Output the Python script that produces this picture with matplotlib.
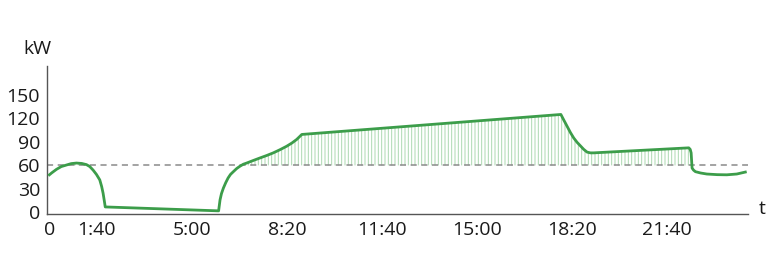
import numpy as np
import matplotlib
matplotlib.use("Agg")
import matplotlib.pyplot as plt

# load profile: time in minutes, power in kW
t_min = [0, 5, 15, 25, 36, 46, 57, 68, 78, 85, 92, 99, 106, 110, 113, 115.5, 117.5,
         356, 357.5, 359, 362, 366, 371, 376, 381, 387, 394, 401, 408, 415,
         429, 443, 457, 471, 485, 499, 510, 520, 526, 531,
         1076, 1082, 1089, 1096, 1103, 1110, 1117, 1124, 1131, 1138, 1145,
         1345, 1348, 1350, 1351, 1352, 1355, 1359, 1370, 1383, 1405, 1425, 1446, 1464]
kw = [48, 50.5, 55, 58.5, 60.5, 62.3, 63, 62.5, 61, 58.5, 54, 48.5, 41.5, 33, 24.5, 15, 7,
      2, 9, 16, 24, 31, 38, 44, 48.5, 52, 56, 59, 61.5, 63,
      66.3, 69.5, 72.6, 76, 80, 84.4, 88.5, 93, 96.5, 99.5,
      125, 118, 110, 102, 95, 89.5, 85, 80.5, 77, 76, 76,
      82.4, 80.5, 76, 66, 56.6, 54, 52, 50.3, 49, 48.2, 48, 49, 51.5]
limit_kw = 60

tick_min = [0, 100, 300, 500, 700, 900, 1100, 1300]
tick_labels = ["0", "1:40", "5:00", "8:20", "11:40", "15:00", "18:20", "21:40"]
y_ticks = [0, 30, 60, 90, 120, 150]

green = "#3c9d4a"
light_green = "#acd9b0"

plt.rcParams['font.family'] = ['Open Sans', 'DejaVu Sans']
plt.rcParams['hatch.linewidth'] = 0.7
plt.rcParams['hatch.color'] = light_green

fig = plt.figure(figsize=(7.68, 2.7), dpi=100)
ax = fig.add_axes([0.0612, 0.206, 0.913, 0.55])

t = np.array(t_min)
p = np.array(kw)

# peak part above the limit, drawn as thin vertical hatching
ax.fill_between(t, limit_kw, p, where=p > limit_kw, interpolate=True,
                facecolor="none", edgecolor=light_green, hatch="|||||",
                linewidth=0, zorder=1)
ax.axhline(limit_kw, color="#8a8a8a", linewidth=1.1, dashes=(4, 3), zorder=2)
ax.plot(t, p, color=green, linewidth=2, solid_joinstyle="round", zorder=3)

ax.set_xlim(-5, 1470)
ax.set_ylim(-2.5, 187)
ax.set_xticks(tick_min)
ax.set_xticklabels(tick_labels)
ax.set_yticks(y_ticks)
ax.tick_params(length=0, labelsize=14, colors="#1a1a1a")
ax.tick_params(axis="x", pad=5)
ax.tick_params(axis="y", pad=5)

for side in ["top", "right"]:
    ax.spines[side].set_visible(False)
for side in ["left", "bottom"]:
    ax.spines[side].set_color("#555555")
    ax.spines[side].set_linewidth(1)

fig.text(37.5 / 768, 1 - 49 / 270, "kW", ha="center", va="center",
         fontsize=14, color="#1a1a1a")
fig.text(762 / 768, 1 - 209 / 270, "t", ha="center", va="center",
         fontsize=14, color="#1a1a1a")

fig.savefig("out.png", dpi=100)
